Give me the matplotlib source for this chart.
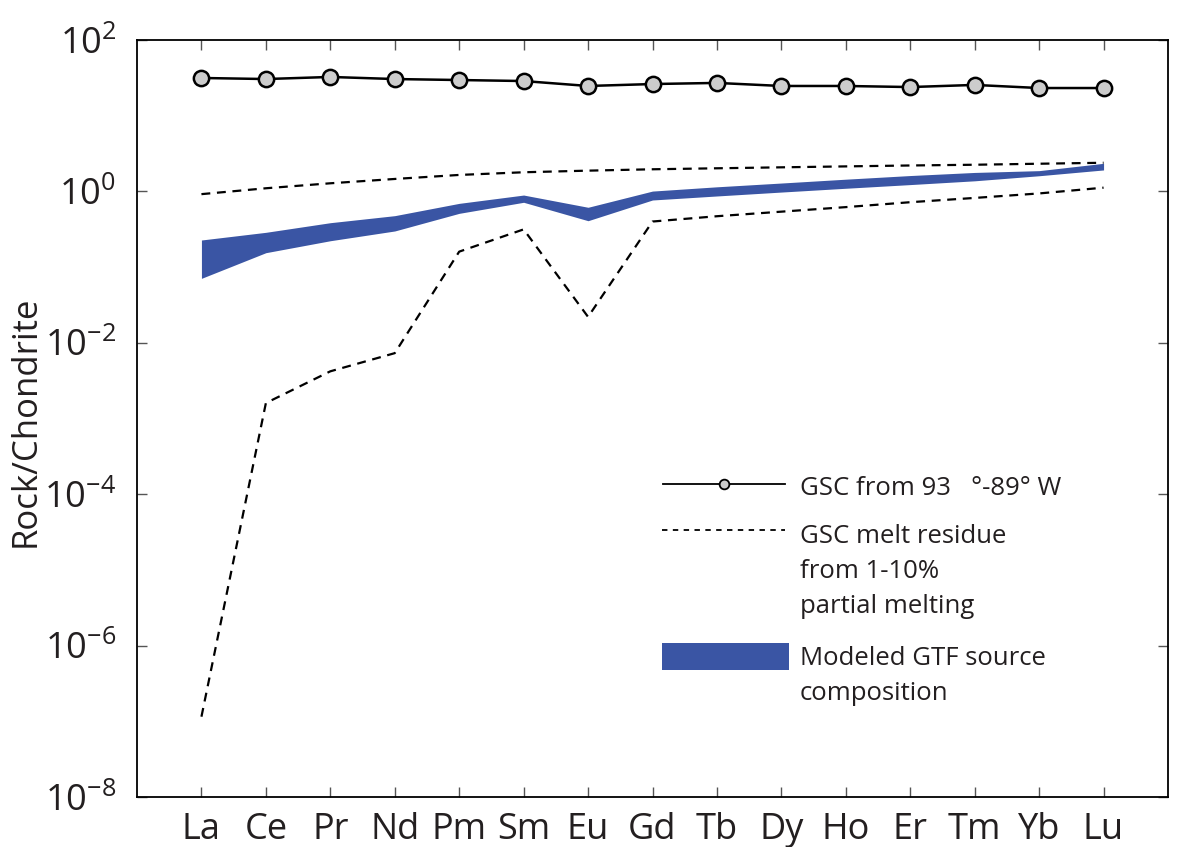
import numpy as np
import matplotlib
matplotlib.use("Agg")
import matplotlib.pyplot as plt
from matplotlib.patches import Rectangle

plt.rcParams['font.family'] = ['Open Sans', 'DejaVu Sans']
plt.rcParams['mathtext.fontset'] = 'custom'
plt.rcParams['mathtext.rm'] = 'Open Sans'
plt.rcParams['mathtext.it'] = 'Open Sans'

elements = ["La", "Ce", "Pr", "Nd", "Pm", "Sm", "Eu", "Gd", "Tb", "Dy", "Ho", "Er", "Tm", "Yb", "Lu"]
gsc = [31.5, 30.5, 32.5, 30.5, 29.6, 28.7, 24.7, 26.2, 27.1, 24.7, 24.7, 23.9, 25.5, 23.2, 23.2]
residue_upper = [0.92, 1.10, 1.28, 1.46, 1.65, 1.79, 1.88, 1.96, 2.02, 2.08, 2.14, 2.20, 2.25, 2.32, 2.39]
residue_lower = [1.15e-7, 1.6e-3, 4.2e-3, 7.3e-3, 0.16, 0.315, 0.022, 0.40, 0.47, 0.54, 0.62, 0.72, 0.82, 0.94, 1.12]
gtf_upper = [0.228, 0.288, 0.386, 0.478, 0.695, 0.895, 0.617, 1.01, 1.15, 1.29, 1.45, 1.62, 1.78, 1.88, 2.35]
gtf_lower = [0.071, 0.155, 0.223, 0.300, 0.513, 0.718, 0.410, 0.77, 0.87, 0.98, 1.10, 1.23, 1.38, 1.61, 1.92]

ytick_vals = [1e-8, 1e-6, 1e-4, 1e-2, 1e0, 1e2]
ytick_labels = [r"$\mathregular{10^{-8}}$", r"$\mathregular{10^{-6}}$", r"$\mathregular{10^{-4}}$",
                r"$\mathregular{10^{-2}}$", r"$\mathregular{10^{0}}$", r"$\mathregular{10^{2}}$"]

legend_gsc = "GSC from 93   °-89° W"
legend_residue = ["GSC melt residue", "from 1-10%", "partial melting"]
legend_gtf = ["Modeled GTF source", "composition"]

blue = "#3a55a4"
marker_face = "#cccccc"
text_color = "#231f20"
dash = (0, (4, 3))
x = np.arange(1, len(elements) + 1)

W, H = 1179, 847
L, R, T, B = 137, 1168, 40, 797
fig = plt.figure(figsize=(W / 100, H / 100), dpi=100)
ax = fig.add_axes([L / W, 1 - B / H, (R - L) / W, (B - T) / H])

ax.fill_between(x, gtf_lower, gtf_upper, color=blue, lw=0, zorder=2)
ax.plot(x, residue_upper, color="black", ls=dash, lw=1.6, zorder=3)
ax.plot(x, residue_lower, color="black", ls=dash, lw=1.6, zorder=3)
ax.plot(x, gsc, color="black", lw=1.8, marker="o", ms=11, mfc=marker_face, mec="black", mew=1.8, zorder=4)

ax.set_yscale("log")
ax.set_ylim(1e-8, 1e2)
ax.set_xlim(0, 16)
ax.set_xticks(x)
ax.set_xticklabels(elements)
ax.set_yticks(ytick_vals)
ax.set_yticklabels(ytick_labels)
ax.minorticks_off()
ax.tick_params(axis="both", which="both", direction="in", top=True, right=True,
               length=7.5, width=1, color="#555555", labelsize=26, labelcolor=text_color)
ax.tick_params(axis="x", pad=10.5)
ax.tick_params(axis="y", pad=15)
ax.set_ylabel("Rock/Chondrite", fontsize=25, color=text_color)
ax.yaxis.set_label_coords(-(L - 43) / (R - L), 1 - (421 - T) / (B - T))
ax.yaxis.label.set_va("bottom")
for s in ax.spines.values():
    s.set_linewidth(1.3)

# legend (manual layout, axes-fraction coordinates)
def fx(px):
    return (px - L) / (R - L)

def fy(py):
    return (B - py) / (B - T)

tr = ax.transAxes
ax.plot([fx(663), fx(785)], [fy(484), fy(484)], transform=tr, color="black", lw=1.3, clip_on=False)
ax.plot([fx(724)], [fy(484)], transform=tr, marker="o", ms=7, mfc=marker_face, mec="black", mew=1.3, clip_on=False)
ax.plot([fx(662), fx(785)], [fy(530), fy(530)], transform=tr, color="black", lw=1.3, ls=(0, (3, 3)), clip_on=False)
ax.add_patch(Rectangle((fx(662), fy(670)), fx(789) - fx(662), fy(643) - fy(670), transform=tr,
                       facecolor=blue, edgecolor="none"))
tx = fx(800)
fs = 18.5
ax.text(tx, fy(495), legend_gsc, transform=tr, fontsize=fs, va="baseline", color=text_color)
for line, base in zip(legend_residue, [543, 578, 613]):
    ax.text(tx, fy(base), line, transform=tr, fontsize=fs, va="baseline", color=text_color)
for line, base in zip(legend_gtf, [665, 700]):
    ax.text(tx, fy(base), line, transform=tr, fontsize=fs, va="baseline", color=text_color)

fig.savefig("out.png", dpi=100)
